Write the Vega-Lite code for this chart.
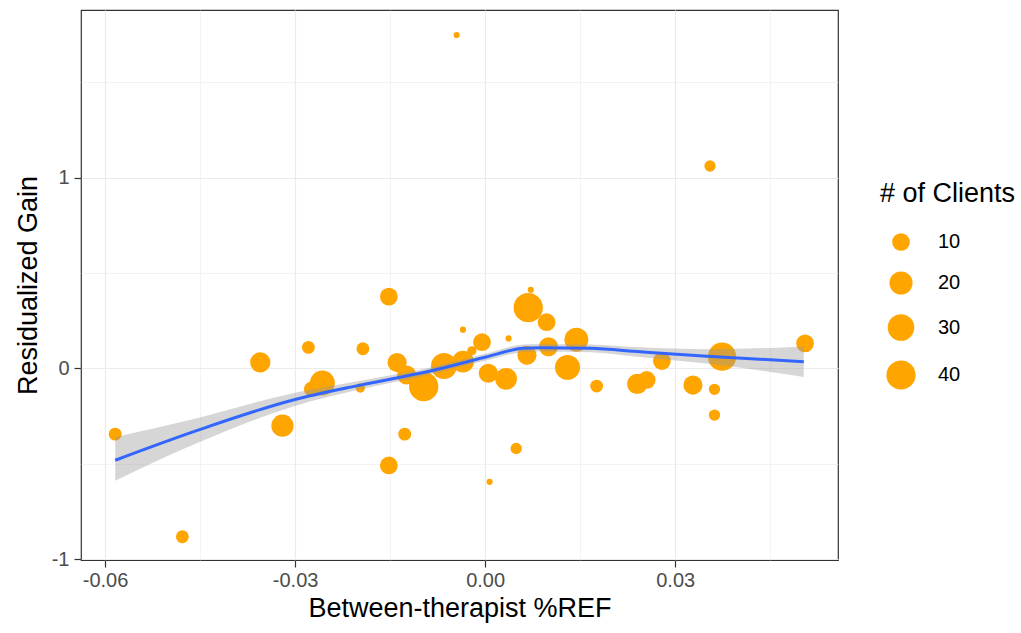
{
  "$schema": "https://vega.github.io/schema/vega-lite/v6.json",
  "autosize": {"type": "none"},
  "padding": {"left": 81, "top": 10, "right": 183, "bottom": 73},
  "width": 757,
  "height": 550,
  "background": "white",
  "config": {
    "font": "Liberation Sans",
    "view": {"stroke": "#333333", "strokeWidth": 1.2},
    "axis": {
      "domain": false,
      "tickColor": "#333333",
      "tickSize": 7,
      "tickWidth": 1.2,
      "labelColor": "#4d4d4d",
      "labelFontSize": 20,
      "titleFontSize": 27,
      "titleFontWeight": "normal",
      "titleColor": "#000000",
      "gridColor": "#ebebeb"
    }
  },
  "datasets": {
    "pts": [
      {"x": -0.0584, "y": -0.345, "n": 5},
      {"x": -0.0478, "y": -0.883, "n": 5},
      {"x": -0.0355, "y": 0.031, "n": 14},
      {"x": -0.032, "y": -0.301, "n": 18},
      {"x": -0.0279, "y": 0.110, "n": 5},
      {"x": -0.0257, "y": -0.077, "n": 25},
      {"x": -0.0275, "y": -0.108, "n": 6},
      {"x": -0.0193, "y": 0.103, "n": 5},
      {"x": -0.0197, "y": -0.103, "n": 3},
      {"x": -0.0152, "y": 0.376, "n": 10},
      {"x": -0.0127, "y": -0.345, "n": 5},
      {"x": -0.0152, "y": -0.509, "n": 10},
      {"x": -0.0139, "y": 0.030, "n": 12},
      {"x": -0.0124, "y": -0.035, "n": 12},
      {"x": -0.0097, "y": -0.096, "n": 40},
      {"x": -0.0065, "y": 0.012, "n": 28},
      {"x": -0.0035, "y": 0.035, "n": 17},
      {"x": -0.0035, "y": 0.203, "n": 2},
      {"x": -0.0021, "y": 0.092, "n": 3},
      {"x": -0.0005, "y": 0.137, "n": 10},
      {"x": 0.0005, "y": -0.026, "n": 12},
      {"x": 0.0033, "y": -0.055, "n": 17},
      {"x": 0.0037, "y": 0.157, "n": 2},
      {"x": 0.0049, "y": -0.42, "n": 4},
      {"x": 0.0007, "y": -0.595, "n": 2},
      {"x": 0.0066, "y": 0.068, "n": 12},
      {"x": 0.0068, "y": 0.318, "n": 40},
      {"x": 0.0072, "y": 0.412, "n": 2},
      {"x": 0.0097, "y": 0.242, "n": 10},
      {"x": 0.0100, "y": 0.113, "n": 12},
      {"x": 0.0130, "y": 0.005, "n": 25},
      {"x": 0.0144, "y": 0.150, "n": 22},
      {"x": 0.0176, "y": -0.093, "n": 5},
      {"x": 0.0240, "y": -0.082, "n": 14},
      {"x": 0.0255, "y": -0.061, "n": 10},
      {"x": 0.0279, "y": 0.038, "n": 10},
      {"x": 0.0328, "y": -0.088, "n": 12},
      {"x": 0.0362, "y": -0.110, "n": 4},
      {"x": 0.0362, "y": -0.245, "n": 4},
      {"x": 0.0374, "y": 0.061, "n": 36},
      {"x": 0.0505, "y": 0.131, "n": 10},
      {"x": 0.0355, "y": 1.061, "n": 4},
      {"x": -0.0045, "y": 1.748, "n": 2}
    ],
    "fit": [
      {"x": -0.0584, "fit": -0.482, "lo": -0.59, "hi": -0.36},
      {"x": -0.046, "fit": -0.332, "lo": -0.40, "hi": -0.265},
      {"x": -0.0303, "fit": -0.166, "lo": -0.20, "hi": -0.13},
      {"x": -0.0197, "fit": -0.088, "lo": -0.11, "hi": -0.065},
      {"x": -0.0092, "fit": -0.018, "lo": -0.036, "hi": 0.0},
      {"x": 0.0, "fit": 0.058, "lo": 0.04, "hi": 0.076},
      {"x": 0.006, "fit": 0.105, "lo": 0.085, "hi": 0.125},
      {"x": 0.0087, "fit": 0.108, "lo": 0.088, "hi": 0.128},
      {"x": 0.0166, "fit": 0.105, "lo": 0.085, "hi": 0.125},
      {"x": 0.0245, "fit": 0.087, "lo": 0.06, "hi": 0.11},
      {"x": 0.035, "fit": 0.064, "lo": 0.025, "hi": 0.10},
      {"x": 0.0503, "fit": 0.035, "lo": -0.045, "hi": 0.115}
    ]
  },
  "layer": [
    {
      "data": {"name": "pts"},
      "mark": {"type": "circle", "opacity": 1, "color": "#FFA500"},
      "encoding": {
        "x": {
          "field": "x", "type": "quantitative",
          "scale": {"domain": [-0.0638, 0.0557], "nice": false, "zero": false},
          "axis": {
            "title": "Between-therapist %REF",
            "values": [-0.06, -0.045, -0.03, -0.015, 0, 0.015, 0.03, 0.045],
            "labelExpr": "abs(round(datum.value*1000)) % 30 == 15 ? '' : (datum.value < -0.0001 ? '-' : '') + format(abs(datum.value), '.2f')",
            "tickOpacity": {"condition": {"test": "abs(round(datum.value*1000)) % 30 == 15", "value": 0}, "value": 1},
            "gridWidth": {"condition": {"test": "abs(round(datum.value*1000)) % 30 == 15", "value": 0.6}, "value": 1.2},
            "labelPadding": 3,
            "titlePadding": 5
          }
        },
        "y": {
          "field": "y", "type": "quantitative",
          "scale": {"domain": [-1.005, 1.879], "nice": false, "zero": false},
          "axis": {
            "title": "Residualized Gain",
            "values": [-1, -0.5, 0, 0.5, 1, 1.5],
            "labelExpr": "abs(round(datum.value*2)) % 2 == 1 ? '' : (datum.value < 0 ? '-' : '') + format(abs(datum.value), 'd')",
            "tickOpacity": {"condition": {"test": "abs(round(datum.value*2)) % 2 == 1", "value": 0}, "value": 1},
            "gridWidth": {"condition": {"test": "abs(round(datum.value*2)) % 2 == 1", "value": 0.6}, "value": 1.2},
            "labelPadding": 5,
            "titlePadding": 9
          }
        },
        "size": {
          "field": "n", "type": "quantitative",
          "scale": {"type": "pow", "exponent": 0.55, "domain": [2, 50], "range": [38, 986], "zero": false},
          "legend": {
            "title": "# of Clients",
            "values": [10, 20, 30, 40],
            "orient": "none",
            "legendX": 799,
            "legendY": 171,
            "padding": 0,
            "titleFontSize": 27,
            "titleFontWeight": "normal",
            "titleColor": "#000000",
            "titlePadding": 24,
            "labelFontSize": 20,
            "labelColor": "#000000",
            "labelOffset": 22,
            "rowPadding": 19,
            "symbolFillColor": "#FFA500",
            "symbolStrokeWidth": 0,
            "symbolOpacity": 1,
            "symbolOffset": 6
          }
        }
      }
    },
    {
      "data": {"name": "fit"},
      "mark": {"type": "area", "color": "#999999", "opacity": 0.4, "interpolate": "monotone"},
      "encoding": {
        "x": {"field": "x", "type": "quantitative"},
        "y": {"field": "lo", "type": "quantitative"},
        "y2": {"field": "hi"}
      }
    },
    {
      "data": {"name": "fit"},
      "mark": {"type": "line", "color": "#3366FF", "strokeWidth": 3, "interpolate": "monotone"},
      "encoding": {
        "x": {"field": "x", "type": "quantitative"},
        "y": {"field": "fit", "type": "quantitative"}
      }
    }
  ]
}
